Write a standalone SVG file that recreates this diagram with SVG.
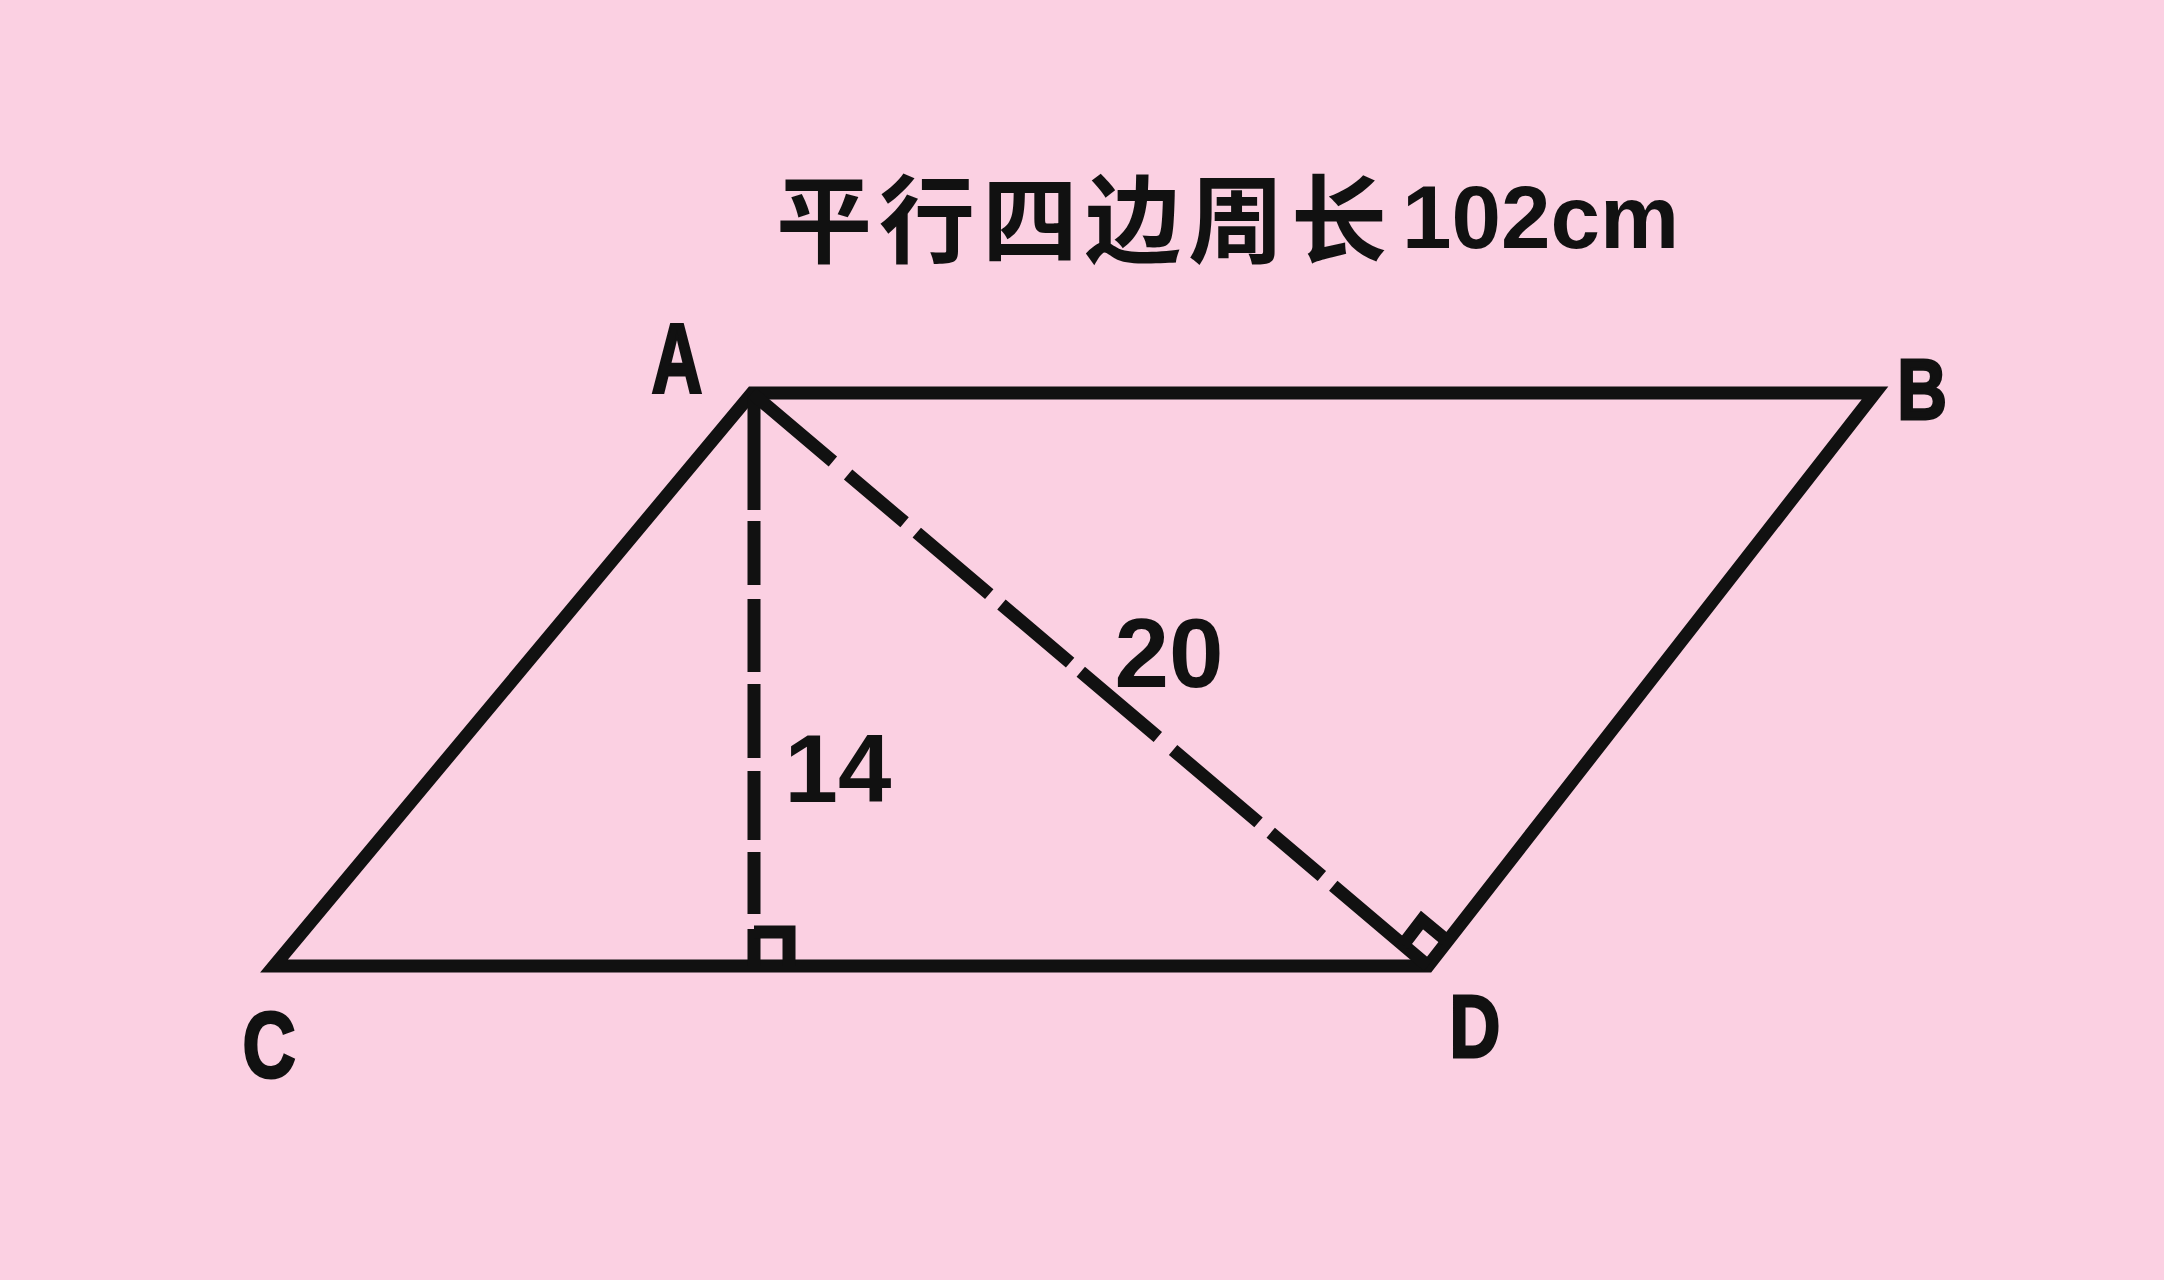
<svg xmlns="http://www.w3.org/2000/svg" width="2164" height="1280" viewBox="0 0 2164 1280">
  <style>
    .ln{fill:none;stroke:#111;stroke-width:13;stroke-linejoin:miter;stroke-linecap:butt}
    .lbl{font-family:"Liberation Sans",Arial,sans-serif;font-weight:bold;fill:#111;text-anchor:middle}
    .pt{stroke:#111;stroke-width:3}
    .cn{font-family:"Noto Sans CJK SC","Noto Sans CJK TC",sans-serif;font-weight:bold;fill:#111}
  </style>
  <rect width="2164" height="1280" fill="#FBD0E2"/>
  <g id="title">
    <text class="cn" x="776" y="255" font-size="96" letter-spacing="7">平行四边周长</text>
    <text class="lbl" x="1402" y="248" font-size="89" style="text-anchor:start">102cm</text>
  </g>
  <g id="connectors">
    <path id="parallelogram" class="ln" d="M274 966 L752 393 L1875 393 L1428 966 Z"/>
    <path id="height" class="ln" d="M754 393 V966" stroke-dasharray="117 11 64 14 73 12 74 13 69 12 62 15 100"/>
    <path id="diagonal" class="ln" d="M752 393 L1428 966" stroke-dasharray="106 20 74 16 95 16 90 14 101 20 112 16 67 15 300"/>
    <path id="rightAngleFoot" class="ln" d="M754 932 H789 V966"/>
    <path id="rightAngleD" class="ln" d="M1403 945 L1422 920 L1446 940"/>
  </g>
  <g id="nodeA"><text class="lbl pt" font-size="98" transform="translate(677 392) scale(0.72 1)">A</text></g>
  <g id="nodeB"><text class="lbl pt" font-size="86" transform="translate(1922 419) scale(0.8 1)">B</text></g>
  <g id="nodeC"><text class="lbl pt" font-size="92" transform="translate(269 1077) scale(0.8 1)">C</text></g>
  <g id="nodeD"><text class="lbl pt" font-size="89" transform="translate(1475 1057) scale(0.79 1)">D</text></g>
  <g id="label14"><text class="lbl" font-size="96" x="838" y="802">14</text></g>
  <g id="label20"><text class="lbl" font-size="98" x="1169" y="687">20</text></g>
</svg>
